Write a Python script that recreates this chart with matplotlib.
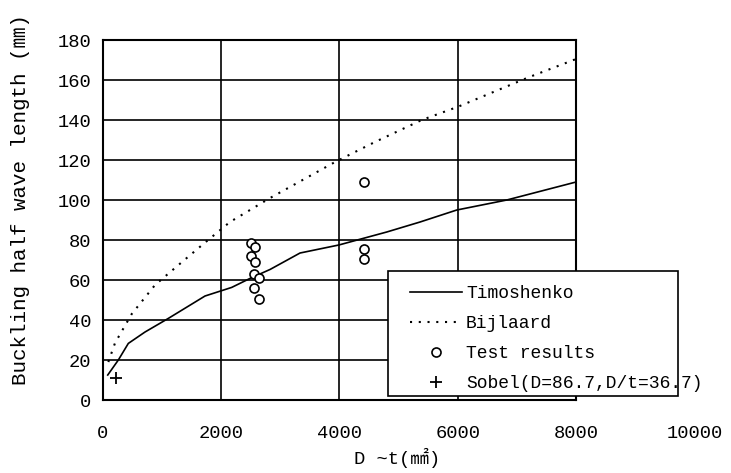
import matplotlib
matplotlib.use("Agg")
import matplotlib.pyplot as plt
from matplotlib.patches import Rectangle

# Timoshenko curve
timo_x = [85, 264, 433, 715, 1109, 1729, 2180, 2490, 2830, 3335, 3990, 4800, 5363, 5984, 6829, 8000]
timo_y = [12.5, 20, 28.3, 34, 40.8, 52, 56.3, 60.8, 65.3, 73.5, 77.5, 84, 89, 95, 100, 109]

# Bijlaard curve
bij_x = [95, 208, 490, 884, 1300, 1700, 2150, 2828, 3927, 4600, 5392, 6011, 7194, 7983]
bij_y = [19, 28.5, 43, 57.5, 68, 78, 89, 101, 119, 129, 140, 146.7, 161.3, 170.3]

# test results
test_x = [2507, 2574, 2507, 2574, 2557, 2642, 2557, 2642, 4417, 4417, 4417]
test_y = [78.7, 76.7, 72, 69, 63, 60.8, 56, 50.3, 109, 75.3, 70.3]

# Sobel point
sobel_x = [220]
sobel_y = [10.8]

x_ticks = [0, 2000, 4000, 6000, 8000, 10000]
y_ticks = list(range(0, 181, 20))

fam = ["Liberation Mono", "Noto Sans CJK JP"]
plt.rcParams["font.family"] = fam

fig = plt.figure(figsize=(7.31, 4.73), dpi=100)
ax = fig.add_axes([0.1405, 0.1543, 0.6475, 0.7611])

ax.plot(timo_x, timo_y, color="black", lw=1.2, label="Timoshenko", zorder=3)
ax.plot(bij_x, bij_y, color="black", lw=1.5, linestyle=(0, (1.0, 3.2)), label="Bijlaard", zorder=3)
ax.plot(test_x, test_y, linestyle="none", marker="o", markersize=6.5,
        markerfacecolor="white", markeredgecolor="black", markeredgewidth=1.2,
        label="Test results", zorder=3)
ax.plot(sobel_x, sobel_y, linestyle="none", marker="+", markersize=8,
        color="black", markeredgewidth=1.3, label="Sobel(D=86.7,D/t=36.7)", zorder=3)

ax.set_xlim(0, 8000)
ax.set_ylim(0, 180)
ax.set_xticks(x_ticks[:-1])
ax.set_yticks(y_ticks)
ax.tick_params(length=0, labelsize=13.5)
ax.xaxis.set_tick_params(pad=18)
ax.yaxis.set_tick_params(pad=8)
ax.grid(True, color="black", lw=1.2)
ax.set_axisbelow(True)
for s in ax.spines.values():
    s.set_linewidth(1.5)
    s.set_color("black")

# last x tick label sits outside the plot frame
ax.annotate(str(x_ticks[-1]), xy=(x_ticks[-1], 0), xycoords=("data", "axes fraction"),
            xytext=(0, -18), textcoords="offset points", ha="center", va="top",
            fontsize=13.5, annotation_clip=False)

ax.text(0.622, -0.161, "D ~t(㎟)", transform=ax.transAxes, ha="center", va="center",
        fontsize=13.5)
fig.text(0.028, 0.186, "Buckling half wave length (㎜)", rotation=90,
         ha="center", va="bottom", fontsize=15)

# legend box (narrower than its last label, as in the original)
box = Rectangle((0.6028, 0.011), 0.6127, 0.347, transform=ax.transAxes,
                facecolor="white", edgecolor="black", lw=1.2, clip_on=False, zorder=4)
ax.add_patch(box)

leg = ax.legend(loc="upper left", bbox_to_anchor=(0.6345, 0.3390), fontsize=13,
                frameon=True, handlelength=2.87, handletextpad=0.22, labelspacing=0.72,
                borderpad=0.4, borderaxespad=0)
leg.get_frame().set_visible(False)
leg.set_zorder(5)

fig.savefig("out.png", dpi=100)
